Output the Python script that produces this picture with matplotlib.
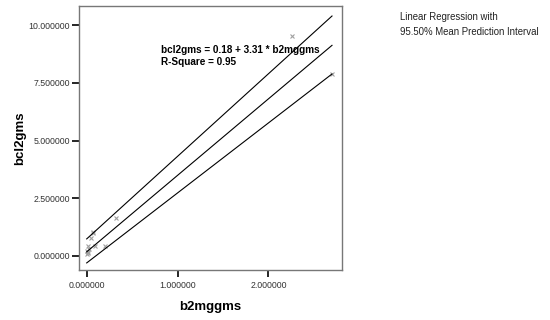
import numpy as np
import matplotlib
matplotlib.use("Agg")
import matplotlib.pyplot as plt

plt.rcParams['font.family'] = ['Liberation Sans', 'DejaVu Sans']

b2mggms = [0.00, 0.01, 0.00, 0.02, 0.01, 0.018, 0.05, 0.066, 0.07, 0.09, 0.20, 0.32, 2.26, 2.70]
bcl2gms = [0.10, 0.15, 0.22, 0.30, 0.45, 0.19, 0.78, 1.00, 1.05, 0.43, 0.43, 1.64, 9.54, 7.88]

# regression line and interval lines
line_x = [0.0, 2.70]
fit_y = [0.18, 9.12]
upper_y = [0.74, 10.39]
lower_y = [-0.30, 7.88]

x_ticks = [0.0, 1.0, 2.0]
y_ticks = [0.0, 2.5, 5.0, 7.5, 10.0]

fig = plt.figure(figsize=(5.5, 3.2), dpi=100)
ax = fig.add_axes([0.1436, 0.156, 0.4782, 0.825])

ax.plot(b2mggms, bcl2gms, linestyle='none', marker='x', color='#a0a0a0', ms=3, mew=0.8)
ax.plot(line_x, fit_y, color='black', lw=0.8)
ax.plot(line_x, upper_y, color='black', lw=0.8)
ax.plot(line_x, lower_y, color='black', lw=0.8)

ax.set_xlim(-0.085, 2.81)
ax.set_ylim(-0.61, 10.82)
ax.set_xticks(x_ticks)
ax.set_yticks(y_ticks)
ax.set_xticklabels(["%.6f" % v for v in x_ticks], fontsize=6.3, color='#333333')
ax.set_yticklabels(["%.6f" % v for v in y_ticks], fontsize=6.3, color='#333333')
ax.tick_params(length=5, width=1.2, color='black', pad=3)
ax.tick_params(axis='y', pad=1.5)

for s in ax.spines.values():
    s.set_color('#777777')
    s.set_linewidth(1)

ax.set_xlabel("b2mggms", fontsize=9.5, fontweight='bold', labelpad=8)
ax.set_ylabel("bcl2gms", fontsize=9.5, fontweight='bold', va='center')
ax.yaxis.set_label_coords(-0.224, 0.5)

ax.text(0.82, 8.65, "bcl2gms = 0.18 + 3.31 * b2mggms\nR-Square = 0.95",
        fontsize=7.2, fontweight='bold', va='center', ha='left', linespacing=1.3)

fig.text(400 / 550, 1 - 24.5 / 320, "Linear Regression with\n95.50% Mean Prediction Interval",
         fontsize=6.9, va='center', ha='left', color='#222222', linespacing=1.6)

fig.savefig("out.png", dpi=100)
